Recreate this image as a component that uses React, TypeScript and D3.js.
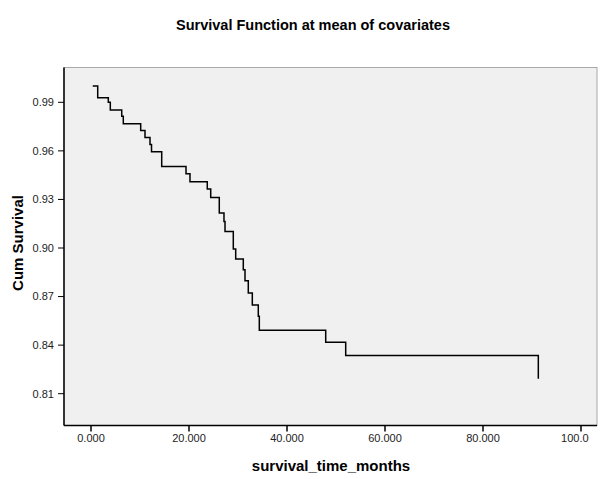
import React from 'react';
import * as d3 from 'd3';

// survival curve (time in months, cumulative survival)
const times = [0.35, 1.37, 3.53, 3.94, 6.27, 6.59, 10.14, 11.02, 12.04, 12.35, 14.43, 19.39, 20.2, 23.73, 24.43,
    26.18, 27.14, 27.35, 29.04, 29.53, 31.08, 31.43, 32.1, 32.92, 34.14, 34.35, 47.9, 51.98, 91.29];
const survival = [1.0, 0.9928, 0.99, 0.9853, 0.9814, 0.9768, 0.9726, 0.9683, 0.964, 0.9595, 0.9503, 0.9458, 0.941,
    0.9364, 0.9312, 0.9216, 0.9164, 0.9102, 0.8994, 0.8932, 0.8866, 0.8798, 0.8722, 0.8648, 0.8578, 0.8492,
    0.8418, 0.8336, 0.8192];

const xTicks = [0, 20, 40, 60, 80, 100];
const yTicks = [0.81, 0.84, 0.87, 0.90, 0.93, 0.96, 0.99];

const W = 600;
const H = 479;
const left = 64;
const right = 597;
const top = 67.5;
const bottom = 425.5;
const font = "Arial, 'Liberation Sans', sans-serif";

export default function App() {
    const x = d3.scaleLinear().domain([0, 100]).range([91, 581]);
    const y = d3.scaleLinear().domain([0.81, 0.99]).range([393.7, 102.3]);

    const points = times.map((t, i) => [t, survival[i]] as [number, number]);
    const line = d3.line<[number, number]>()
        .x(d => x(d[0]))
        .y(d => y(d[1]))
        .curve(d3.curveStepAfter);

    return (
        <svg width={W} height={H} style={{ position: 'absolute', left: 0, top: 0, background: '#fff' }}>
            <defs>
                {/* the last tick label is cut off at the edge in the original */}
                <clipPath id="xlab">
                    <rect x={0} y={bottom} width={589} height={30} />
                </clipPath>
            </defs>
            <text x={313} y={30} textAnchor="middle" fontFamily={font} fontWeight="bold" fontSize={14.5} fill="#000">
                Survival Function at mean of covariates
            </text>

            {/* plot area */}
            <rect x={left} y={top} width={right - left} height={bottom - top} fill="#f0f0f0" stroke="#a8a8a8" strokeWidth={1} />
            <line x1={left} x2={left} y1={top} y2={bottom} stroke="#000" strokeWidth={1.5} />
            <line x1={left} x2={right} y1={bottom} y2={bottom} stroke="#000" strokeWidth={1.5} />

            {/* y axis */}
            {yTicks.map(v => (
                <g key={v}>
                    <line x1={left - 6} x2={left} y1={y(v)} y2={y(v)} stroke="#000" strokeWidth={1} />
                    <text x={54} y={y(v)} dy="0.35em" textAnchor="end" fontFamily={font} fontSize={11} fill="#222">
                        {v.toFixed(2)}
                    </text>
                </g>
            ))}
            <text transform={`translate(23,${243}) rotate(-90)`} textAnchor="middle" fontFamily={font}
                fontWeight="bold" fontSize={15} fill="#000">
                Cum Survival
            </text>

            {/* x axis */}
            {xTicks.map(v => (
                <g key={v}>
                    <line x1={x(v)} x2={x(v)} y1={bottom} y2={bottom + 6} stroke="#000" strokeWidth={1.5} />
                    <text x={x(v)} y={442} textAnchor="middle" fontFamily={font} fontSize={11} fill="#222"
                        clipPath="url(#xlab)">
                        {v.toFixed(3)}
                    </text>
                </g>
            ))}
            <text x={331} y={471} textAnchor="middle" fontFamily={font} fontWeight="bold" fontSize={15} fill="#000">
                survival_time_months
            </text>

            <path d={line(points) || ''} fill="none" stroke="#000" strokeWidth={1.5} />
        </svg>
    );
}
